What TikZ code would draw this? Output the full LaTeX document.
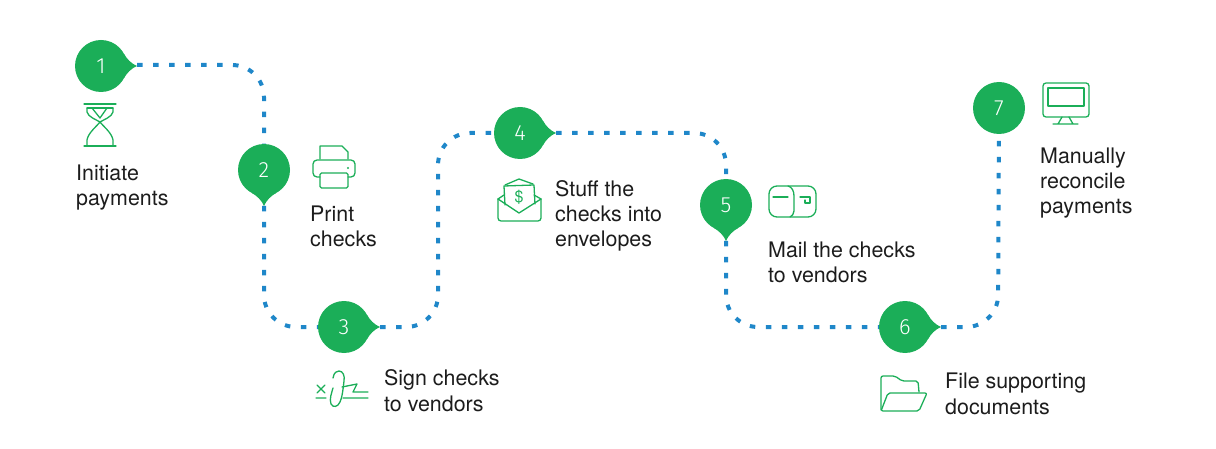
\documentclass[tikz,border=0pt]{standalone}
\usepackage{fontspec}
\setmainfont{TeX Gyre Heros}
\newfontfamily\numeralfont{Fira Sans Light}
\definecolor{leaf}{HTML}{1BAE58}
\definecolor{route}{HTML}{1F87C9}
\definecolor{ink}{HTML}{1C1C1C}
\tikzset{
  badge/.style={circle,fill=leaf,minimum size=52pt,inner sep=0pt,text=white,font=\numeralfont\fontsize{22}{22}\selectfont},
  stem/.style={fill=leaf},
  routeline/.style={draw=route,line width=4pt,dash pattern=on 5.5pt off 10.5pt,rounded corners=32pt},
  glyph/.style={draw=leaf,line width=1.3pt,line join=round,line cap=round},
  caption/.style={anchor=base west,align=left,inner sep=0pt,text=ink,font=\fontsize{21.4}{25.3}\selectfont}
}
\newcommand{\pinstem}[2]{\fill[stem,shift={(#1)},rotate=#2] (28:26) .. controls (26,7) and (30,2.5) .. (36,0) .. controls (30,-2.5) and (26,-7) .. (-28:26) -- cycle;}
\begin{document}
\begin{tikzpicture}[x=1pt,y=-1pt]
\useasboundingbox (0,0) rectangle (1216,449);

% step badges
\node[badge] (n1) at (101,66) {1};
\node[badge] (n2) at (264,170) {2};
\node[badge] (n3) at (344,327) {3};
\node[badge] (n4) at (520,133) {4};
\node[badge] (n5) at (726,205) {5};
\node[badge] (n6) at (905,327) {6};
\node[badge] (n7) at (999,108) {7};

% pointed stems on the badges
\pinstem{n1}{0}
\pinstem{n2}{-90}
\pinstem{n3}{0}
\pinstem{n4}{0}
\pinstem{n5}{-90}
\pinstem{n6}{0}
\coordinate (t1) at (137,65);
\coordinate (t2) at (264,206);
\coordinate (t3) at (380,327);
\coordinate (t4) at (556,133);
\coordinate (t5) at (726,241);
\coordinate (t6) at (941,327);
\coordinate (bend3) at (438,327);
\coordinate (bend4) at (438,133);
\coordinate (bend6) at (998,327);
\coordinate (bend2) at (264,327);
\coordinate (bend5) at (726,327);

% dotted route between the steps
\path[routeline] (t1) -| (n2);
\path[routeline] (t2) -- (bend2) -- (n3);
\path[routeline] (t3) -- (bend3) -- (bend4) -- (n4);
\path[routeline] (t4) -| (n5);
\path[routeline] (t5) -- (bend5) -- (n6);
\path[routeline] (t6) -- (bend6) -- (n7);

% captions, placed by the baseline of their last line
\node[caption] (c1) at (76,206) {Initiate\\payments};
\node[caption] (c2) at (310,247) {Print\\checks};
\node[caption] (c3) at (384,411) {Sign checks\\to vendors};
\node[caption] (c4) at (555,247) {Stuff the\\checks into\\envelopes};
\node[caption] (c5) at (768,283) {Mail the checks\\to vendors};
\node[caption] (c6) at (945,414) {File supporting\\documents};
\node[caption] (c7) at (1040,214) {Manually\\reconcile\\payments};

% hourglass
\draw[glyph] (84,104) -- (116,104) (84,146) -- (116,146) (87,108) -- (113,108);
\draw[glyph] (87,108) -- (87,112) .. controls (88,117) and (97,120) .. (100,122) .. controls (97,126) and (88,133) .. (87,140) -- (87,145);
\draw[glyph] (113,108) -- (113,112) .. controls (112,117) and (103,120) .. (100,122) .. controls (103,126) and (112,133) .. (113,140) -- (113,145);
\draw[glyph] (92,108) -- (100,118) -- (107,108);

% printer
\draw[glyph] (320,159) -- (320,146) -- (342,146) -- (348,152) -- (348,159);
\draw[glyph,rounded corners=4pt] (320,177) -- (313,177) -- (313,160) -- (355,160) -- (355,177) -- (348,177);
\draw[glyph,rounded corners=1.5pt] (320,173) rectangle (348,188);
\fill[leaf] (348,168) circle (1.2pt);

% signature
\draw[glyph] (317,385) -- (325,393) (325,385) -- (317,393) (316,398) -- (326,398) (343,398) -- (368,398);
\draw[glyph] (342,387) -- (357,384) -- (353,392) -- (368,392);
\draw[glyph] (333,378) .. controls (334,372) and (337,371) .. (339,371) .. controls (343,371) and (345,376) .. (344,381) .. controls (343,390) and (342,398) .. (340,402) .. controls (338,407) and (333,408) .. (331,404) .. controls (329,399) and (332,392) .. (333,388);

% envelope with a check
\draw[glyph,rounded corners=3pt] (498,199) -- (498,221) -- (541,221) -- (541,199);
\draw[glyph] (498,199) -- (504,195) (541,199) -- (534,195);
\draw[glyph] (498,199) -- (519,213) -- (541,199);
\draw[glyph] (505,205) -- (504,186) -- (534,185) -- (535,204);
\draw[glyph] (505,185) -- (519,179) -- (533,184);
\node[inner sep=0pt,text=leaf,font=\fontsize{16}{16}\selectfont] (dollar) at (519,197) {\$};

% mailbox
\draw[glyph,rounded corners=8pt] (788,186) -- (769,186) -- (769,217) -- (816,217) -- (816,186) -- (788,186);
\draw[glyph] (788,186) .. controls (792,187) and (794,191) .. (794,196) -- (794,211) .. controls (794,214) and (792,216) .. (790,217);
\draw[glyph] (773,197) -- (788,197);
\draw[glyph] (800,197) -- (810,197) -- (810,203) -- (805,203) -- (805,200);

% folder
\draw[glyph,rounded corners=2pt] (881,410) -- (881,376) -- (895,376) -- (902,381) -- (918,381) -- (919,392);
\draw[glyph,rounded corners=2pt] (888,393) -- (927,393) -- (919,411) -- (881,411) -- cycle;

% monitor
\draw[glyph,rounded corners=3pt] (1043,83) rectangle (1089,117);
\draw[glyph] (1048,88) rectangle (1084,106);
\draw[glyph] (1062,117) -- (1058,124) (1069,117) -- (1073,124) (1053,124) -- (1078,124);
\end{tikzpicture}
\end{document}
